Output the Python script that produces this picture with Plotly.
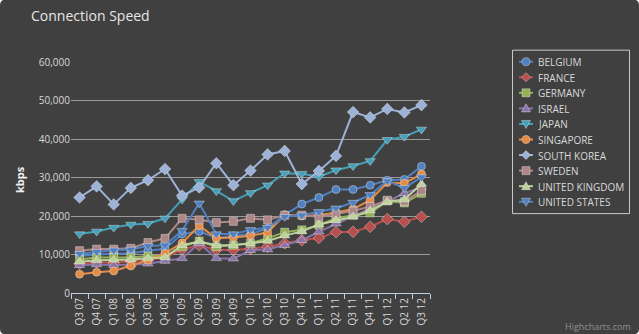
import plotly.graph_objects as go

categories = ["Q3 07", "Q4 07", "Q1 08", "Q2 08", "Q3 08", "Q4 08", "Q1 09", "Q2 09", "Q3 09", "Q4 09",
              "Q1 10", "Q2 10", "Q3 10", "Q4 10", "Q1 11", "Q2 11", "Q3 11", "Q4 11", "Q1 12", "Q2 12", "Q3 12"]

belgium = [9600, 10000, 10200, 10300, 11000, 11500, 15300, 16000, 14300, 14800, 15300, 16800, 20300, 23100, 24800, 26900, 26900, 28000, 29300, 29500, 32900]
france = [7600, 8000, 7800, 8300, 8600, 9200, 11300, 12400, 11200, 11200, 11500, 12000, 12900, 13700, 14300, 15800, 15900, 17200, 19200, 18500, 19800]
germany = [8700, 9200, 9200, 9200, 9600, 9600, 12000, 13500, 12000, 12400, 12900, 14200, 15800, 16400, 17600, 19400, 20200, 20800, 23900, 23400, 25900]
israel = [7200, 7400, 7200, 7400, 7600, 8300, 9000, 12900, 9000, 8900, 11100, 11300, 12400, 13700, 15900, 18000, 20000, 22000, 23800, 25900, 27500]
japan = [15300, 16000, 17000, 17800, 18000, 19400, 24300, 28900, 26500, 23900, 26000, 28000, 31100, 31000, 30200, 31900, 33000, 34300, 39800, 40600, 42500]
singapore = [4900, 5400, 5700, 7000, 8500, 10300, 13000, 17500, 14200, 14400, 14900, 15700, 20300, 20000, 20200, 20900, 21800, 24100, 28700, 28500, 30900]
south_korea = [24800, 27700, 23000, 27300, 29300, 32200, 25300, 27400, 33700, 28000, 31800, 36000, 36900, 28300, 31700, 35600, 47000, 45600, 47800, 46900, 48800]
sweden = [11000, 11400, 11400, 11600, 13100, 14200, 19400, 19000, 18300, 18600, 19400, 19000, 20200, 20200, 19800, 20500, 21300, 22500, 24100, 23800, 26600]
united_kingdom = [8100, 8500, 8600, 8700, 9000, 9200, 12400, 13400, 12400, 12400, 12900, 13500, 14900, 16000, 17800, 18900, 19800, 21400, 23700, 24300, 28300]
united_states = [10200, 10700, 11100, 11300, 12200, 12400, 16200, 23300, 15300, 15300, 16400, 17000, 19800, 20200, 21100, 22000, 23500, 25500, 29100, 27300, 30100]

series_names = ["BELGIUM", "FRANCE", "GERMANY", "ISRAEL", "JAPAN", "SINGAPORE",
                "SOUTH KOREA", "SWEDEN", "UNITED KINGDOM", "UNITED STATES"]
series_values = [belgium, france, germany, israel, japan, singapore,
                 south_korea, sweden, united_kingdom, united_states]
colors = ["#5080c0", "#b84f4c", "#93b058", "#8a73a6", "#43a0b8", "#e48c45",
          "#9cb2d6", "#ad8786", "#bdd29b", "#5080c0"]
symbols = ["circle", "diamond", "square", "triangle-up", "triangle-down", "circle",
           "diamond", "square", "triangle-up", "triangle-down"]
sizes = [8, 9, 8, 9, 9, 8, 9, 8, 9, 9]

# pixel geometry of the plot area
W, H = 639, 334
PL, PR, PT, PB = 71, 430, 62.3, 292.7


def px(x):
    return (x - PL) / (PR - PL)


def py(y):
    return (PB - y) / (PB - PT)


FONT = "Open Sans"
TXT = "#d8d8d8"
MARKER_LINE_COL = "rgba(255,255,255,0.35)"
MARKER_LINE = dict(color=MARKER_LINE_COL, width=1)

fig = go.Figure()
for name, vals, col, sym, sz in zip(series_names, series_values, colors, symbols, sizes):
    fig.add_trace(go.Scatter(
        x=categories, y=vals, name=name, mode="lines+markers",
        line=dict(color=col, width=2),
        marker=dict(symbol=sym, size=sz, color=col, line=MARKER_LINE),
        showlegend=False,
    ))

# custom legend (Highcharts-like compact layout)
LEG_X0, LEG_X1, LEG_Y0, LEG_Y1 = 512, 629, 50, 213
ITEM_Y0, ITEM_DY = 62, 15.52
SYM_X0, SYM_X1, TEXT_X = 519, 533, 536

shapes = []
annotations = []


def poly_path(pts):
    s = "M " + " L ".join(f"{px(a)},{py(b)}" for a, b in pts) + " Z"
    return s


def legend_symbol(sym, cx, cy, col):
    base = dict(xref="paper", yref="paper", fillcolor=col,
                line=dict(color=MARKER_LINE_COL, width=1))
    if sym == "circle":
        return dict(type="circle", x0=px(cx - 4), x1=px(cx + 4), y0=py(cy - 4), y1=py(cy + 4), **base)
    if sym == "square":
        return dict(type="rect", x0=px(cx - 4), x1=px(cx + 4), y0=py(cy - 4), y1=py(cy + 4), **base)
    if sym == "diamond":
        pts = [(cx, cy - 4.5), (cx + 4.5, cy), (cx, cy + 4.5), (cx - 4.5, cy)]
    elif sym == "triangle-up":
        pts = [(cx, cy - 4.5), (cx + 4.5, cy + 3.5), (cx - 4.5, cy + 3.5)]
    else:
        pts = [(cx, cy + 4.5), (cx + 4.5, cy - 3.5), (cx - 4.5, cy - 3.5)]
    return dict(type="path", path=poly_path(pts), **base)


# rounded dark background
r = 6
x0, x1, y0, y1 = 0, W, 0, H
path = (f"M {px(x0 + r)},{py(y0)} L {px(x1 - r)},{py(y0)} "
        f"Q {px(x1)},{py(y0)} {px(x1)},{py(y0 + r)} L {px(x1)},{py(y1 - r)} "
        f"Q {px(x1)},{py(y1)} {px(x1 - r)},{py(y1)} L {px(x0 + r)},{py(y1)} "
        f"Q {px(x0)},{py(y1)} {px(x0)},{py(y1 - r)} L {px(x0)},{py(y0 + r)} "
        f"Q {px(x0)},{py(y0)} {px(x0 + r)},{py(y0)} Z")
shapes.append(dict(type="path", xref="paper", yref="paper", path=path,
                   fillcolor="#404040", line=dict(width=0), layer="below"))
shapes.append(dict(type="rect", xref="paper", yref="paper",
                   x0=px(LEG_X0 + 0.5), x1=px(LEG_X1 + 0.5), y0=py(LEG_Y0 + 0.5), y1=py(LEG_Y1 + 0.5),
                   line=dict(color="#c8c8c8", width=1), fillcolor="rgba(0,0,0,0)"))

for i, (name, col, sym) in enumerate(zip(series_names, colors, symbols)):
    yy = ITEM_Y0 + i * ITEM_DY
    shapes.append(dict(type="line", xref="paper", yref="paper",
                       x0=px(SYM_X0), x1=px(SYM_X1), y0=py(yy), y1=py(yy),
                       line=dict(color=col, width=2)))
    shapes.append(legend_symbol(sym, (SYM_X0 + SYM_X1) / 2, yy, col))
    annotations.append(dict(text=name, xref="paper", yref="paper", x=px(TEXT_X), y=py(yy + 0.5),
                            xanchor="left", yanchor="middle", showarrow=False,
                            font=dict(family=FONT, size=10, color=TXT)))

annotations += [
    dict(text="Connection Speed", xref="paper", yref="paper", x=px(29), y=py(16),
         xanchor="left", yanchor="middle", showarrow=False,
         font=dict(family=FONT, size=14, color="#e6e6e6")),
    dict(text="<b>kbps</b>", xref="paper", yref="paper", x=px(19), y=py(180),
         xanchor="center", yanchor="middle", textangle=-90, showarrow=False,
         font=dict(family=FONT, size=11, color="#f0f0f0")),
    dict(text="Highcharts.com", xref="paper", yref="paper", x=px(633), y=py(326),
         xanchor="right", yanchor="middle", showarrow=False,
         font=dict(family=FONT, size=9, color="#909090")),
]

fig.update_layout(
    width=W, height=H,
    margin=dict(l=PL, r=W - PR, t=PT, b=H - PB, autoexpand=False),
    paper_bgcolor="#ffffff",
    plot_bgcolor="rgba(0,0,0,0)",
    font=dict(family=FONT, color=TXT, size=10),
    showlegend=False,
    shapes=shapes,
    annotations=annotations,
    xaxis=dict(
        type="category", range=[-0.5, len(categories) - 0.5],
        tickangle=-90, tickson="boundaries", ticks="outside", ticklen=5,
        tickcolor="#c0d0e0", showline=True, linecolor="#c0d0e0", linewidth=1,
        showgrid=False, zeroline=False, automargin=False,
        tickfont=dict(family=FONT, size=10, color=TXT),
    ),
    yaxis=dict(
        range=[0, 60000], tickvals=[0, 10000, 20000, 30000, 40000, 50000, 60000],
        tickformat=",", showgrid=True, gridcolor="#9a9a9a", gridwidth=1,
        zeroline=False, showline=False, ticks="", automargin=False,
        tickfont=dict(family=FONT, size=10, color=TXT),
    ),
)

fig.write_html("out.html")
